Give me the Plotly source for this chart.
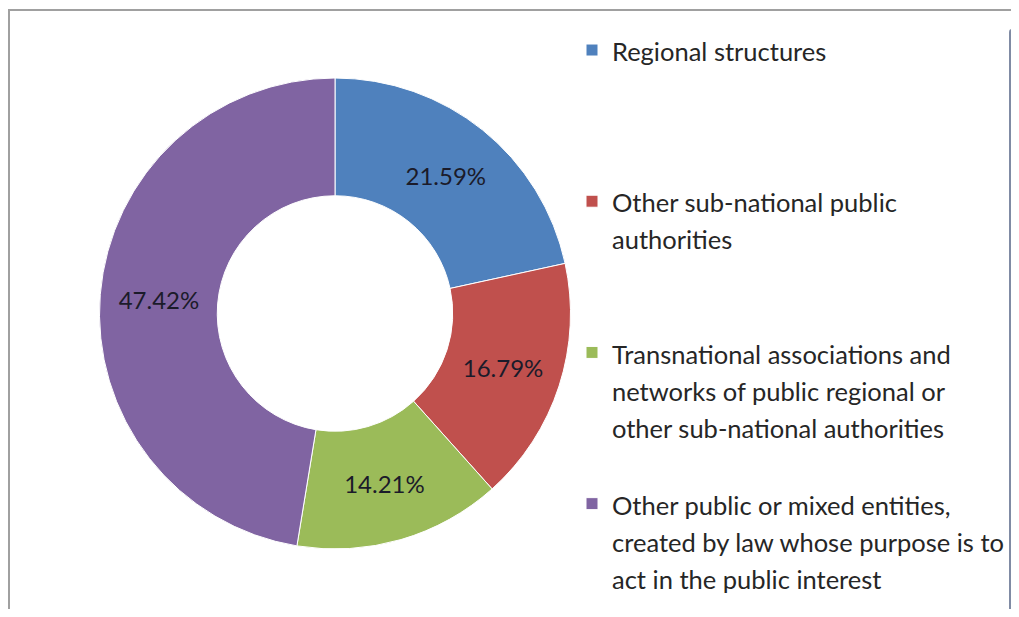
import plotly.graph_objects as go

categories = [
    ["Regional structures"],
    ["Other sub-national public", "authorities"],
    ["Transnational associations and", "networks of public regional or", "other sub-national authorities"],
    ["Other public or mixed entities,", "created by law whose purpose is to", "act in the public interest"],
]
values = [21.59, 16.79, 14.21, 47.42]
colors = ["#4F81BD", "#C0504D", "#9BBB59", "#8064A2"]

# The page is drawn with the browser's 8px body margin, so layout is
# expressed in screen pixels and converted to paper fractions.
OFF = 8
W, H = 1003, 601


def fx(x):
    return (x - OFF) / W


def fy(y):
    return 1 - (y - OFF) / H


LINES_PER_ENTRY = 4
labels = []
for lines in categories:
    parts = ['<span style="font-size:25.5px">%s</span>' % ln for ln in lines]
    parts += [" "] * (LINES_PER_ENTRY - len(lines))
    labels.append("<br>".join(parts))

fig = go.Figure(
    go.Pie(
        labels=labels,
        values=values,
        hole=0.5,
        sort=False,
        direction="clockwise",
        rotation=0,
        marker=dict(colors=colors, line=dict(color="white", width=1)),
        texttemplate="%{value:.2f}%",
        textposition="inside",
        insidetextorientation="horizontal",
        textfont=dict(family="Lato", size=24, color="#1b1b2a"),
        domain=dict(x=[fx(98), fx(572)], y=[fy(549), fy(78)]),
        hoverinfo="skip",
    )
)

fig.update_layout(
    width=W,
    height=H,
    margin=dict(l=0, r=0, t=0, b=0, autoexpand=False),
    paper_bgcolor="white",
    plot_bgcolor="white",
    showlegend=True,
    legend=dict(
        x=fx(572),
        y=fy(25),
        xanchor="left",
        yanchor="top",
        valign="top",
        font=dict(family="Lato", size=28.5, color="#262626"),
        bgcolor="rgba(0,0,0,0)",
        traceorder="normal",
    ),
    shapes=[
        dict(
            type="rect",
            xref="paper",
            yref="paper",
            x0=fx(9),
            x1=1.05,
            y0=-0.05,
            y1=fy(10),
            line=dict(color="#a0a0a0", width=2),
            layer="above",
        )
    ],
)

fig.write_html("out.html")
